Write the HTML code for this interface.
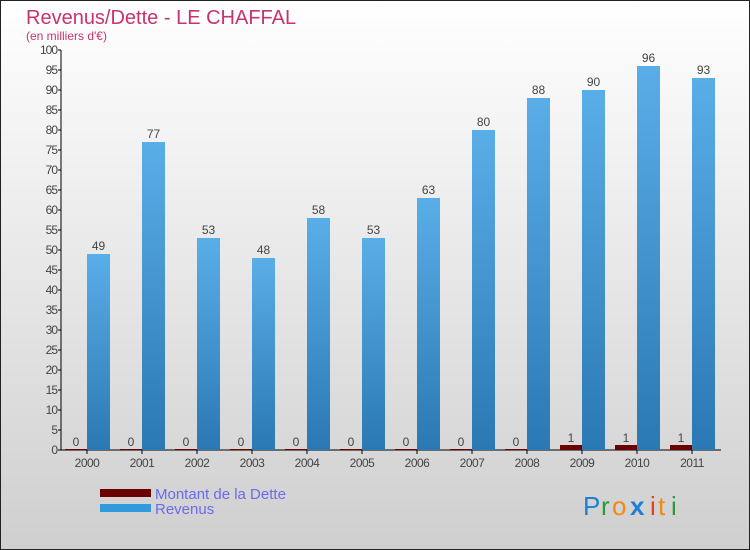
<!DOCTYPE html>
<html><head><meta charset="utf-8"><style>
body{margin:0;}
svg{display:block;font-family:"Liberation Sans",sans-serif;}
</style></head><body>
<svg id="chart" width="750" height="550" xmlns="http://www.w3.org/2000/svg">
<defs>
<linearGradient id="bg" x1="0" y1="0" x2="0" y2="1"><stop offset="0" stop-color="#ffffff"/><stop offset="1" stop-color="#cfcfcf"/></linearGradient>
<linearGradient id="rev" x1="0" y1="0" x2="0" y2="1"><stop offset="0" stop-color="#5aaee8"/><stop offset="1" stop-color="#2a78b4"/></linearGradient>
</defs>
<rect x="0.5" y="0.5" width="749" height="549" fill="url(#bg)" stroke="#222"/>
<text x="26" y="24" font-size="20" fill="#c8336e">Revenus/Dette - LE CHAFFAL</text>
<text x="26" y="40" font-size="12" fill="#c8336e">(en milliers d'€)</text>
<g id="axes"></g>
<g id="bars"></g>
<rect x="100" y="489" width="51" height="8" fill="#6b0000"/>
<rect x="100" y="504" width="51" height="8" fill="#3399dd"/>
<text x="155" y="499" font-size="15" fill="#6a6aee">Montant de la Dette</text>
<text x="155" y="514" font-size="15" fill="#6a6aee">Revenus</text>
<g font-size="26">
<text x="583" y="515" fill="#1f7fd6">P</text><text x="601" y="515" fill="#2a9a3a">r</text><text x="612" y="515" fill="#f28a12">o</text><text x="630" y="515" fill="#1f7fd6" font-weight="bold">x</text><text x="650" y="515" fill="#e8401c">i</text><text x="658" y="515" fill="#f28a12">t</text><text x="671" y="515" fill="#2a9a3a">i</text>
</g>
</svg>
<script>
const years=["2000","2001","2002","2003","2004","2005","2006","2007","2008","2009","2010","2011"];
const dette=[0,0,0,0,0,0,0,0,0,1,1,1];
const revenus=[49,77,53,48,58,53,63,80,88,90,96,93];
const yTicks=[0,5,10,15,20,25,30,35,40,45,50,55,60,65,70,75,80,85,90,95,100];
const NS="http://www.w3.org/2000/svg";
const y=v=>450-v*4;
const x=i=>87+i*55;
function mk(tag,attrs,parent,txt){const e=document.createElementNS(NS,tag);for(const k in attrs)e.setAttribute(k,attrs[k]);if(txt!==undefined)e.textContent=txt;parent.appendChild(e);return e;}
const axes=document.getElementById('axes'),bars=document.getElementById('bars');
let e=mk('line',{x1:61,y1:50,x2:61,y2:450,stroke:'#000'},axes);


e=mk('line',{x1:61,y1:450,x2:721,y2:450,stroke:'#000'},axes);


yTicks.forEach(t=>{
 mk('line',{x1:58,y1:y(t),x2:61,y2:y(t),stroke:'#000'},axes);
 const l=mk('text',{x:57,y:y(t)+4,'font-size':12,fill:'#444','text-anchor':'end','letter-spacing':'-1'},axes,t);
 
 
});
years.forEach((yr,i)=>{
 mk('line',{x1:x(i),y1:450,x2:x(i),y2:454,stroke:'#000'},axes);
 const l=mk('text',{x:x(i),y:467,'font-size':12,fill:'#444','text-anchor':'middle','letter-spacing':'-0.5'},axes,yr);
 
 
 const d=dette[i];
 const db=mk('rect',{x:x(i)-22,y:y(d)-1,width:22,height:d*4+1,fill:'#6b0000'},bars);
 
 
 const dl=mk('text',{x:x(i)-11,y:y(d)-4,'font-size':12,fill:'#444','text-anchor':'middle'},bars,d);
 
 
 const r=revenus[i];
 const rb=mk('rect',{x:x(i),y:y(r),width:23,height:r*4,fill:'url(#rev)'},bars);
 
 
 const rl=mk('text',{x:x(i)+11.5,y:y(r)-4,'font-size':12,fill:'#444','text-anchor':'middle'},bars,r);
 
 
});
</script>
</body></html>
